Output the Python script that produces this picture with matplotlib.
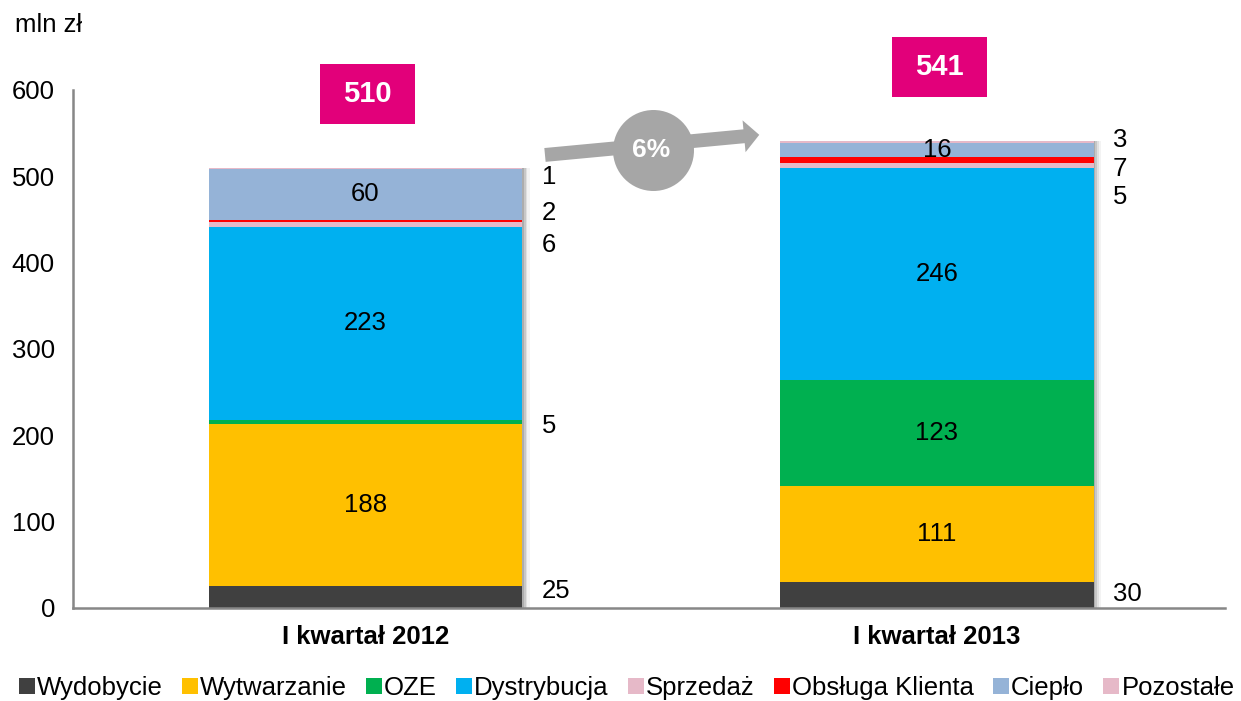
import matplotlib
matplotlib.use("Agg")
import matplotlib.pyplot as plt
import numpy as np
from matplotlib.patches import Rectangle, FancyArrowPatch
from matplotlib.lines import Line2D

plt.rcParams['font.family'] = ['Liberation Sans', 'DejaVu Sans']

# data
categories = ['I kwartał 2012', 'I kwartał 2013']
segments = ['Wydobycie', 'Wytwarzanie', 'OZE', 'Dystrybucja',
            'Sprzedaż', 'Obsługa Klienta', 'Ciepło', 'Pozostałe']
values_2012 = [25, 188, 5, 223, 6, 2, 60, 1]
values_2013 = [30, 111, 123, 246, 5, 7, 16, 3]
totals = [510, 541]
change_label = '6%'

colors = ['#404040', '#FFC000', '#00B050', '#00B0F0',
          '#E6B9C8', '#FF0000', '#95B3D7', '#E6B9C8']

# which segments get their label inside the bar
inside = [[False, True, False, True, False, False, True, False],
          [False, True, True, True, False, False, True, False]]
# y positions (data units) of the labels drawn beside the bars
outside_y = [[20, None, 211, None, 420, 458, None, 499],
             [16, None, None, None, 476, 509, None, 542]]

fig = plt.figure(figsize=(12.41, 7.01), dpi=100)
ax = fig.add_axes([0.0588, 0.1327, 0.9283, 0.739])

x = np.arange(len(categories))
width = 0.548
data = np.array([values_2012, values_2013])

# soft shadow on the right of each bar
for k, a in zip([0.003, 0.006, 0.009, 0.013], [0.3, 0.22, 0.14, 0.08]):
    ax.bar(x + k, totals, width, color='#707070', alpha=a, zorder=1, linewidth=0)

bottom = np.zeros(len(categories))
for i, name in enumerate(segments):
    vals = data[:, i]
    ax.bar(x, vals, width, bottom=bottom, color=colors[i], zorder=2,
           linewidth=0, label=name)
    for j in range(len(categories)):
        if inside[j][i]:
            ax.text(x[j], bottom[j] + vals[j] / 2, str(vals[j]), ha='center',
                    va='center', fontsize=18.5, color='black', zorder=4)
        elif outside_y[j][i] is not None:
            ax.text(x[j] + width / 2 + 0.034, outside_y[j][i], str(vals[j]),
                    ha='left', va='center', fontsize=18.5, color='black', zorder=4)
    bottom += vals

# total boxes
bw, bh = 0.166, 69.5
for j, t in enumerate(totals):
    cy = t + 85
    ax.add_patch(Rectangle((x[j] - bw / 2 + 0.004, cy - bh / 2), bw, bh,
                           facecolor='#E2007A', edgecolor='none',
                           clip_on=False, zorder=5))
    ax.text(x[j] + 0.004, cy, str(t), ha='center', va='center', fontsize=21,
            fontweight='bold', color='white', zorder=6)

# growth arrow
arrow = FancyArrowPatch((0.314, 524.7), (0.689, 548.0),
                        arrowstyle='simple,head_length=11,head_width=23,tail_width=10',
                        mutation_scale=1, color='#A6A6A6', linewidth=0,
                        clip_on=False, zorder=5, shrinkA=0, shrinkB=0)
ax.add_patch(arrow)
ax.scatter([0.503], [531], s=3400, color='#A6A6A6', zorder=6, clip_on=False,
           linewidths=0)
ax.text(0.499, 531, change_label, ha='center', va='center', fontsize=19,
        fontweight='bold', color='white', zorder=7)

ax.set_xlim(-0.512, 1.504)
ax.set_ylim(0, 600)
ax.set_yticks(np.arange(0, 601, 100))
ax.set_xticks(x)
ax.set_xticklabels(categories, fontweight='bold', fontsize=18.5)
ax.tick_params(axis='y', length=0, pad=13, labelsize=18.5)
ax.tick_params(axis='x', length=0, pad=12)
for s in ['top', 'right']:
    ax.spines[s].set_visible(False)
for s in ['left', 'bottom']:
    ax.spines[s].set_color('#878787')
    ax.spines[s].set_linewidth(1.8)
ax.set_facecolor('none')

fig.text(0.012, 1 - 25 / 701, 'mln zł', ha='left', va='center', fontsize=18.5)

handles = [Line2D([], [], marker='s', linestyle='', markersize=11,
                  markerfacecolor=c, markeredgewidth=0) for c in colors]
fig.legend(handles, segments, loc='center', bbox_to_anchor=(0.505, 1 - 688 / 701),
           ncol=8, frameon=False, fontsize=18.5, handlelength=0.6,
           handletextpad=0.1, columnspacing=0.75, borderpad=0)

fig.savefig('out.png', dpi=100)
